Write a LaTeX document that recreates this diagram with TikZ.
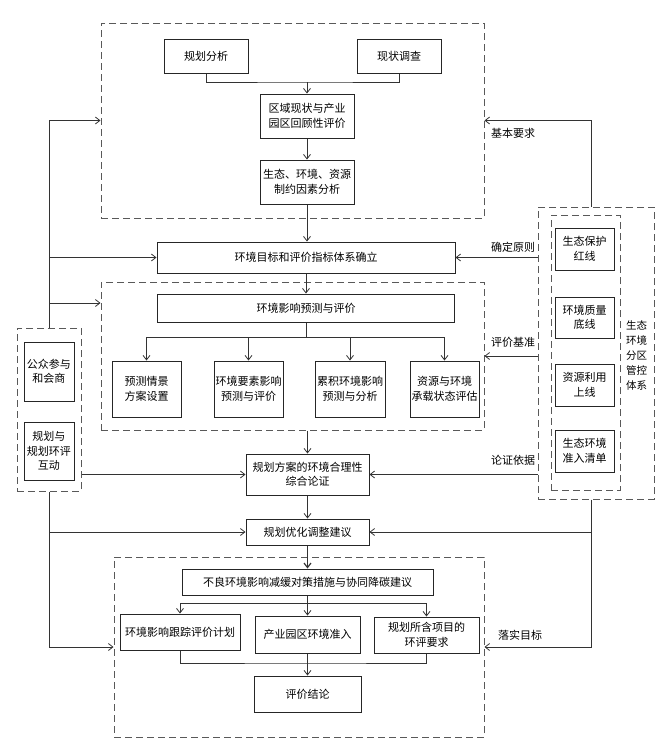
\documentclass[tikz,border=0pt]{standalone}
\usepackage{fontspec}
\setmainfont{Noto Sans CJK SC}
\usetikzlibrary{arrows.meta}
\newcommand\fs{\fontsize{11pt}{14.5pt}\selectfont}
\newcommand\fsv{\fontsize{10.5pt}{15pt}\selectfont}
\begin{document}
\begin{tikzpicture}[x=1pt,y=-1pt,
  box/.style={draw=black!85, line width=1pt, fill=white, inner sep=0pt, align=center, font=\fs},
  dbox/.style={draw=black!65, line width=1pt, dash pattern=on 7pt off 4pt, inner sep=0pt},
  arr/.style={draw=black!80, line width=0.8pt, -{Straight Barb[length=4.5pt,width=7pt]}},
  ln/.style={draw=black!80, line width=0.8pt},
  lbl/.style={font=\fs, inner sep=0pt, align=center}]
\useasboundingbox (0,0) rectangle (668,745);

% dashed groups
\node[dbox, minimum width=383pt, minimum height=195pt] (D1) at (292.5,120.5) {};
\node[dbox, minimum width=383pt, minimum height=148pt] (D2) at (292.5,356) {};
\node[dbox, minimum width=370pt, minimum height=180pt] (D3) at (299,647) {};
\node[dbox, minimum width=64pt, minimum height=163pt] (DL) at (49,409.5) {};
\node[dbox, minimum width=116pt, minimum height=292pt] (DR) at (596,353) {};
\node[dbox, minimum width=69pt, minimum height=275pt] (DRi) at (585.5,352.5) {};

% top group
\node[box, minimum width=84pt, minimum height=34pt] (gh) at (206,56) {规划分析};
\node[box, minimum width=84pt, minimum height=34pt] (xz) at (399,56) {现状调查};
\node[box, minimum width=94pt, minimum height=44pt] (qy) at (307,116) {区域现状与产业\\园区回顾性评价};
\node[box, minimum width=94pt, minimum height=44pt] (st) at (307,182) {生态、环境、资源\\制约因素分析};

\node[box, minimum width=298pt, minimum height=31pt] (mb) at (306,257.5) {环境目标和评价指标体系确立};

% middle group
\node[box, minimum width=297pt, minimum height=28pt] (yc) at (306,308) {环境影响预测与评价};
\node[box, minimum width=69pt, minimum height=56pt] (a1) at (146.5,389) {预测情景\\方案设置};
\node[box, minimum width=69pt, minimum height=56pt] (a2) at (248.5,389) {环境要素影响\\预测与评价};
\node[box, minimum width=70pt, minimum height=56pt] (a3) at (350,389) {累积环境影响\\预测与分析};
\node[box, minimum width=69pt, minimum height=56pt] (a4) at (444.5,389) {资源与环境\\承载状态评估};

\node[box, minimum width=123pt, minimum height=41pt] (lz) at (307.5,474.5) {规划方案的环境合理性\\综合论证};
\node[box, minimum width=123pt, minimum height=26pt] (yh) at (307.5,532) {规划优化调整建议};

% bottom group
\node[box, minimum width=251pt, minimum height=26pt] (bl) at (307.5,582) {不良环境影响减缓对策措施与协同降碳建议};
\node[box, minimum width=120pt, minimum height=36pt] (b1) at (180,632) {环境影响跟踪评价计划};
\node[box, minimum width=105pt, minimum height=37pt] (b2) at (307.5,634.5) {产业园区环境准入};
\node[box, minimum width=105pt, minimum height=36pt] (b3) at (426.5,635) {规划所含项目的\\环评要求};
\node[box, minimum width=107pt, minimum height=36pt] (jl) at (307.5,694) {评价结论};

% left group
\node[box, minimum width=50pt, minimum height=59pt] (gz) at (49,371.5) {公众参与\\和会商};
\node[box, minimum width=50pt, minimum height=58pt] (hd) at (49,451) {规划与\\规划环评\\互动};

% right group
\node[box, minimum width=59pt, minimum height=42pt] (r1) at (584.5,249) {生态保护\\红线};
\node[box, minimum width=59pt, minimum height=41pt] (r2) at (584.5,317.5) {环境质量\\底线};
\node[box, minimum width=59pt, minimum height=42pt] (r3) at (584.5,385) {资源利用\\上线};
\node[box, minimum width=59pt, minimum height=42pt] (r4) at (584.5,451) {生态环境\\准入清单};
\node[lbl, font=\fsv] (t6) at (636.5,355) {生态\\环境\\分区\\管控\\体系};

% labels
\node[lbl] (t1) at (513,133) {基本要求};
\node[lbl] (t2) at (513,247) {确定原则};
\node[lbl] (t3) at (513,342) {评价基准};
\node[lbl] (t4) at (513,460) {论证依据};
\node[lbl] (t5) at (520,635) {落实目标};

% junction coordinates
\coordinate (m1) at (307,82);
\coordinate (m2) at (306,337);
\coordinate (m3) at (307.5,603);
\coordinate (m4) at (307.5,663);
\coordinate (l3) at (49,303);
\coordinate (rt) at ([xshift=-5pt]DR.north);
\coordinate (rb) at ([xshift=-5pt]DR.south);

% main flow
\draw[ln] (gh.south) |- (m1) -| (xz.south);
\draw[arr] (m1) -- (qy.north);
\draw[arr] (qy) -- (st);
\draw[arr] (st.south) -- (st.south |- mb.north);
\draw[arr] (mb.south) -- (mb.south |- yc.north);
\draw[ln] (yc.south) -- (m2);
\draw[ln] (a1.north |- m2) -- (a4.north |- m2);
\foreach \n in {a1,a2,a3,a4} \draw[arr] (\n.north |- m2) -- (\n.north);
\draw[arr] (lz.north |- D2.south) -- (lz.north);
\draw[arr] (lz) -- (yh);
\draw[arr, line width=1.2pt] (yh) -- (bl);
\draw[ln] (bl.south) -- (m3);
\draw[ln] (b1.north |- m3) -- (b3.north |- m3);
\foreach \n in {b1,b2,b3} \draw[arr] (\n.north |- m3) -- (\n.north);
\draw[ln] (b1.south) |- (m4) -| (b3.south);
\draw[ln] (b2.south) -- (m4);
\draw[arr] (m4) -- (jl.north);

% left spine
\draw[arr] (DL.north) |- (D1.west);
\draw[arr] (DL.north |- mb.west) -- (mb.west);
\draw[arr] (l3) -- (D2.west |- l3);
\draw[arr] (DL.east |- lz.west) -- (lz.west);
\draw[arr] (DL.south) |- (D3.west);
\draw[arr] (DL.south |- yh.west) -- (yh.west);

% right spine
\draw[arr] (rt) |- (D1.east);
\draw[arr] (DR.west |- mb.east) -- (mb.east);
\draw[arr] (DR.west |- D2.east) -- (D2.east);
\draw[arr] (DR.west |- lz.east) -- (lz.east);
\draw[arr] (rb) |- (D3.east);
\draw[arr] (rb |- yh.east) -- (yh.east);
\end{tikzpicture}
\end{document}
